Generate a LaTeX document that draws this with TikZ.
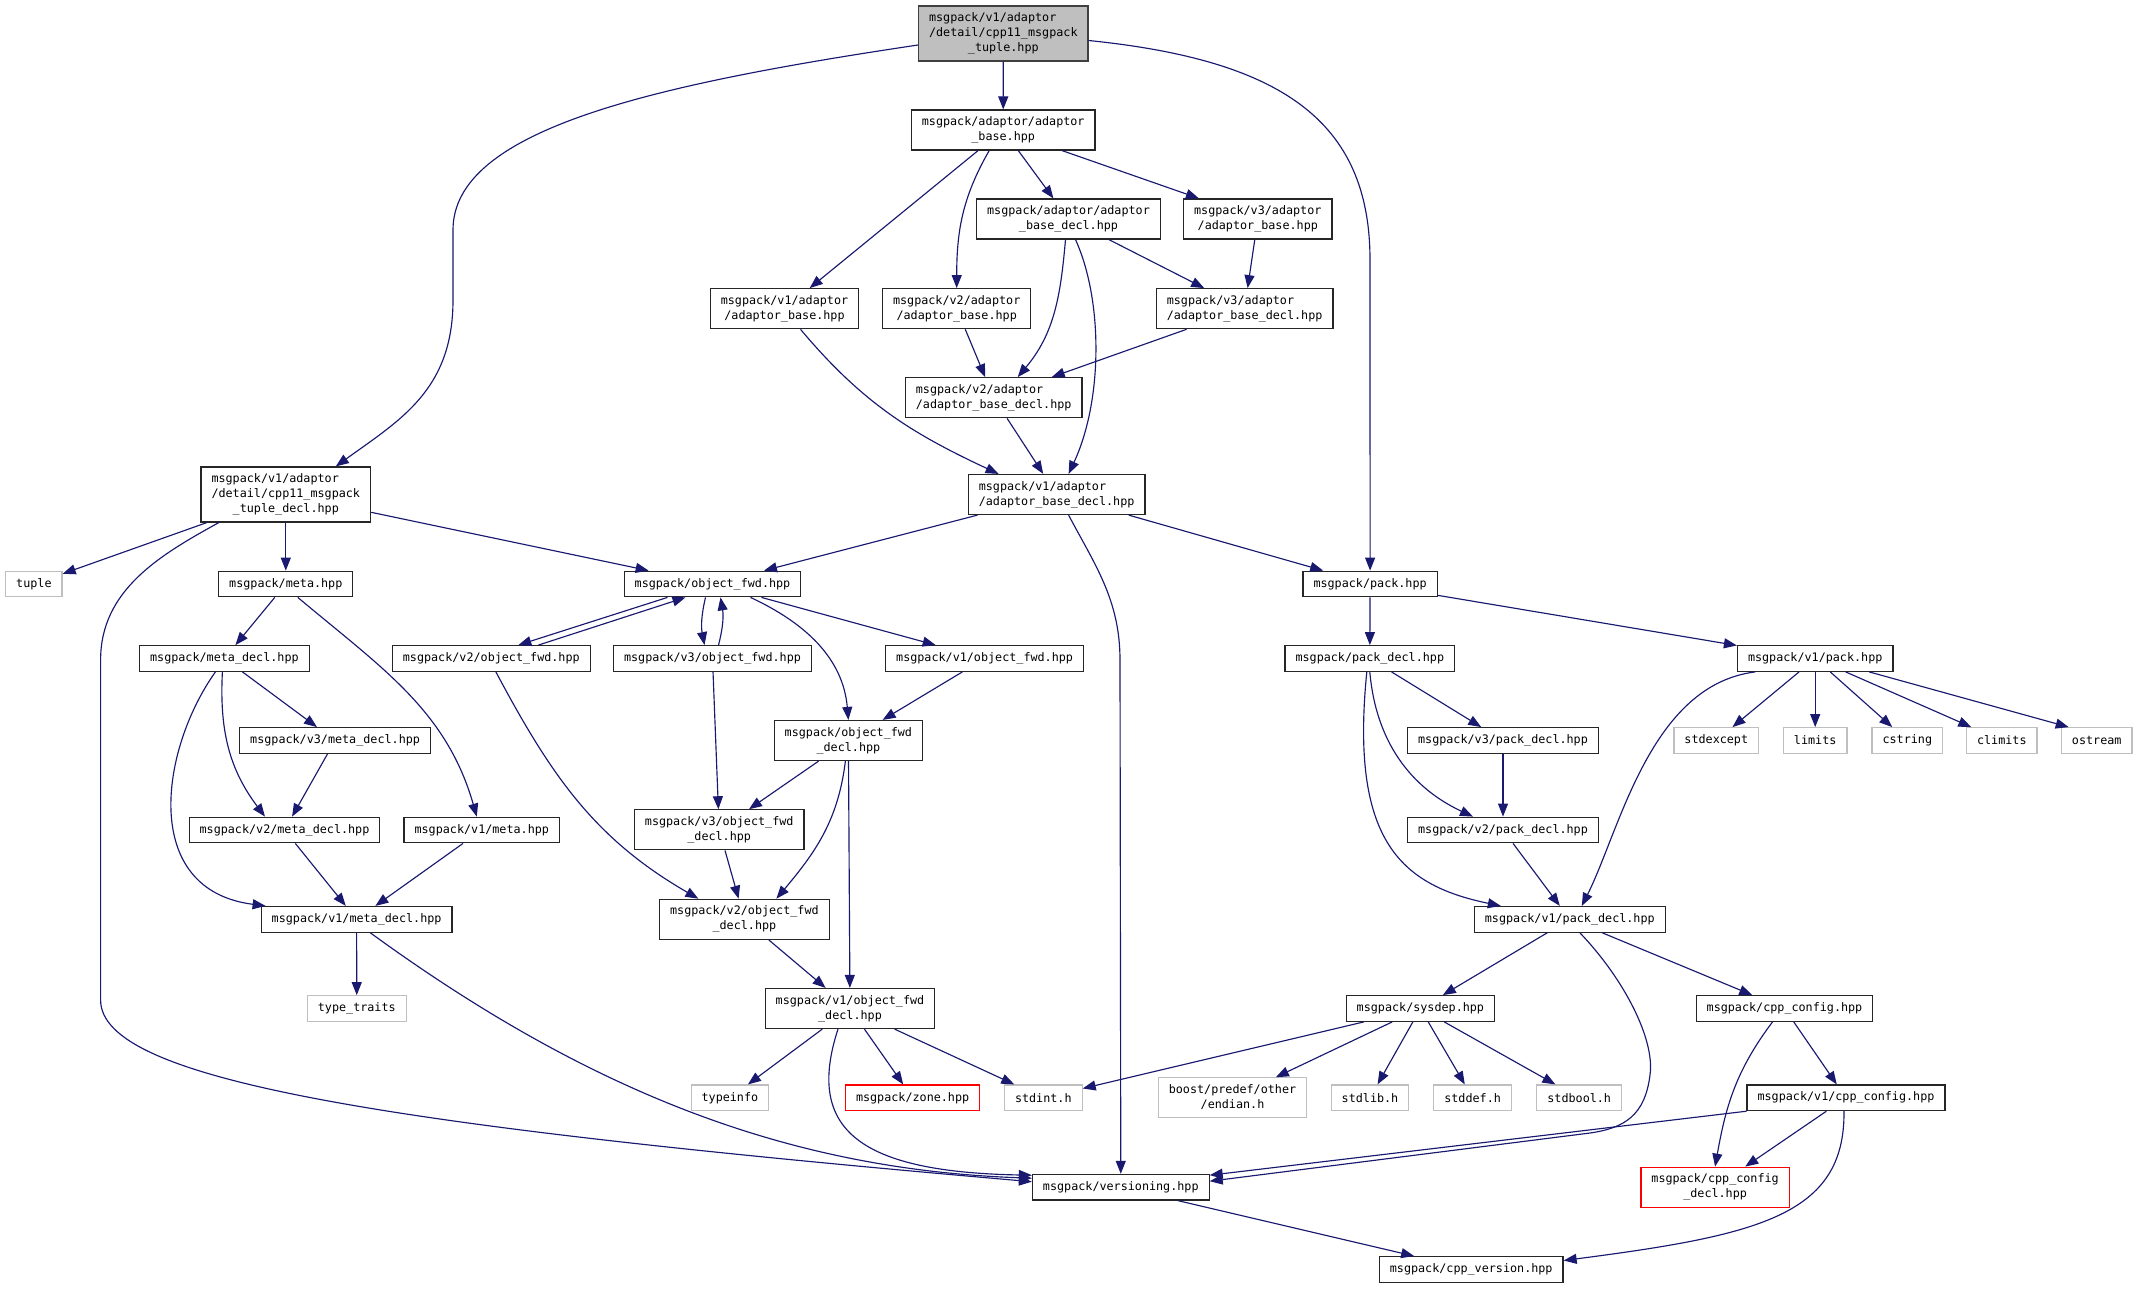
\documentclass[tikz,border=0pt]{standalone}
\usepackage{fontspec}
\newfontfamily\dxmono{DejaVu Sans Mono}
\usetikzlibrary{arrows.meta}
\definecolor{edgeblue}{HTML}{191970}
\definecolor{grey75}{HTML}{BFBFBF}
\newcommand{\lbl}[2]{\begin{tabular}{@{}l@{}}#1\\\multicolumn{1}{@{}c@{}}{#2}\end{tabular}}

\begin{document}
\begin{tikzpicture}[x=1bp,y=1bp,
		hdr/.style={draw=black!85,line width=1.2bp,inner xsep=10.5bp,inner ysep=5bp,minimum height=25.6bp,font=\dxmono\fontsize{11.75bp}{15bp}\selectfont},
		syshdr/.style={hdr,draw=grey75},
		redhdr/.style={hdr,draw=red},
		roothdr/.style={hdr,draw=black!75,fill=grey75},
		inc/.style={draw=edgeblue,line width=1.15bp,-{Triangle[length=13bp,width=10bp]}}]
			\useasboundingbox (0,0) rectangle (2137,-1288);

			\node(root) [roothdr] at (1003.3,-33.5) {\lbl{msgpack/v1/adaptor\\/detail/cpp11\_msgpack}{\_tuple.hpp}};
			\node(abase) [hdr] at (1003.2,-130) {\lbl{msgpack/adaptor/adaptor}{\_base.hpp}};
			\node(abasedecl) [hdr] at (1068.5,-219) {\lbl{msgpack/adaptor/adaptor}{\_base\_decl.hpp}};
			\node(v3abase) [hdr] at (1257.8,-219) {\lbl{msgpack/v3/adaptor}{/adaptor\_base.hpp}};
			\node(v1abase) [hdr] at (784.5,-308.7) {\lbl{msgpack/v1/adaptor}{/adaptor\_base.hpp}};
			\node(v2abase) [hdr] at (956.7,-308.7) {\lbl{msgpack/v2/adaptor}{/adaptor\_base.hpp}};
			\node(v3abasedecl) [hdr] at (1244.6,-308.7) {\lbl{msgpack/v3/adaptor}{/adaptor\_base\_decl.hpp}};
			\node(v2abasedecl) [hdr] at (993.7,-397.7) {\lbl{msgpack/v2/adaptor}{/adaptor\_base\_decl.hpp}};
			\node(tupledecl) [hdr] at (285.8,-494.5) {\lbl{msgpack/v1/adaptor\\/detail/cpp11\_msgpack}{\_tuple\_decl.hpp}};
			\node(v1abasedecl) [hdr] at (1056.6,-494.5) {\lbl{msgpack/v1/adaptor}{/adaptor\_base\_decl.hpp}};

			\node(tuple) [syshdr] at (33.9,-584) {tuple};
			\node(meta) [hdr] at (285.8,-584) {msgpack/meta.hpp};
			\node(objfwd) [hdr] at (712.5,-584) {msgpack/object\_fwd.hpp};
			\node(pack) [hdr] at (1370.1,-584) {msgpack/pack.hpp};

			\node(metadecl) [hdr] at (224.4,-658.5) {msgpack/meta\_decl.hpp};
			\node(v2objfwd) [hdr] at (491.3,-658.5) {msgpack/v2/object\_fwd.hpp};
			\node(v3objfwd) [hdr] at (712.5,-658.5) {msgpack/v3/object\_fwd.hpp};
			\node(v1objfwd) [hdr] at (984.6,-658.5) {msgpack/v1/object\_fwd.hpp};
			\node(packdecl) [hdr] at (1369.8,-658.5) {msgpack/pack\_decl.hpp};
			\node(v1pack) [hdr] at (1815.2,-658.5) {msgpack/v1/pack.hpp};

			\node(v3metadecl) [hdr] at (335.1,-740.5) {msgpack/v3/meta\_decl.hpp};
			\node(objfwddecl) [hdr] at (848.4,-740.5) {\lbl{msgpack/object\_fwd}{\_decl.hpp}};
			\node(v3packdecl) [hdr] at (1503,-740.5) {msgpack/v3/pack\_decl.hpp};
			\node(stdexcept) [syshdr] at (1716.3,-740.5) {stdexcept};
			\node(limits) [syshdr] at (1815.2,-740.5) {limits};
			\node(cstring) [syshdr] at (1907.3,-740.5) {cstring};
			\node(climits) [syshdr] at (2001.8,-740.5) {climits};
			\node(ostream) [syshdr] at (2096.7,-740.5) {ostream};

			\node(v2metadecl) [hdr] at (284.5,-830) {msgpack/v2/meta\_decl.hpp};
			\node(v1meta) [hdr] at (481.8,-830) {msgpack/v1/meta.hpp};
			\node(v3objfwddecl) [hdr] at (719.2,-829.8) {\lbl{msgpack/v3/object\_fwd}{\_decl.hpp}};
			\node(v2packdecl) [hdr] at (1503,-830) {msgpack/v2/pack\_decl.hpp};

			\node(v1metadecl) [hdr] at (356.6,-919.3) {msgpack/v1/meta\_decl.hpp};
			\node(v2objfwddecl) [hdr] at (744.4,-919.3) {\lbl{msgpack/v2/object\_fwd}{\_decl.hpp}};
			\node(v1packdecl) [hdr] at (1569.8,-919.3) {msgpack/v1/pack\_decl.hpp};

			\node(typetraits) [syshdr] at (356.8,-1008.5) {type\_traits};
			\node(v1objfwddecl) [hdr] at (850,-1008.5) {\lbl{msgpack/v1/object\_fwd}{\_decl.hpp}};
			\node(sysdep) [hdr] at (1420.4,-1008.5) {msgpack/sysdep.hpp};
			\node(cppconfig) [hdr] at (1784.5,-1008.5) {msgpack/cpp\_config.hpp};

			\node(typeinfo) [syshdr] at (729.9,-1097.8) {typeinfo};
			\node(zone) [redhdr] at (912.6,-1097.8) {msgpack/zone.hpp};
			\node(stdint) [syshdr] at (1043.3,-1097.8) {stdint.h};
			\node(endian) [syshdr] at (1232.5,-1097.8) {\lbl{boost/predef/other}{/endian.h}};
			\node(stdlib) [syshdr] at (1370,-1097.8) {stdlib.h};
			\node(stddef) [syshdr] at (1472.6,-1097.8) {stddef.h};
			\node(stdbool) [syshdr] at (1579.2,-1097.8) {stdbool.h};
			\node(v1cppconfig) [hdr] at (1846,-1097.8) {msgpack/v1/cpp\_config.hpp};

			\node(versioning) [hdr] at (1120.8,-1187.2) {msgpack/versioning.hpp};
			\node(cppconfigdecl) [redhdr] at (1715.1,-1187.2) {\lbl{msgpack/cpp\_config}{\_decl.hpp}};
			\node(cppversion) [hdr] at (1471.2,-1269.5) {msgpack/cpp\_version.hpp};

			\draw[inc](root) -- (abase);
			\draw[inc]([yshift=-11.5bp]root.west) .. controls (650,-85) and (453,-130) .. (453,-230) -- (453,-300) .. controls (453,-390) and (400,-420) .. ([xshift=50bp]tupledecl.north);
			\draw[inc]([yshift=-7bp]root.east) .. controls (1280,-60) and (1370,-120) .. (1370,-260) -- (pack);

			\draw[inc](abase) -- (v1abase);
			\draw[inc]([xshift=-14bp]abase.south) to[out=-120,in=90] (v2abase.north);
			\draw[inc](abase) -- (abasedecl);
			\draw[inc](abase) -- (v3abase);
			\draw[inc]([xshift=-3bp]abasedecl.south) to[out=-95,in=50] ([xshift=24bp]v2abasedecl.north);
			\draw[inc]([xshift=7bp]abasedecl.south) .. controls (1103,-300) and (1103,-400) .. ([xshift=12bp]v1abasedecl.north);
			\draw[inc](abasedecl) -- (v3abasedecl);
			\draw[inc](v3abase) -- (v3abasedecl);
			\draw[inc](v2abase) -- (v2abasedecl);
			\draw[inc](v3abasedecl) -- (v2abasedecl);
			\draw[inc]([xshift=16bp]v1abase.south) to[out=-50,in=155] ([xshift=-58bp]v1abasedecl.north);
			\draw[inc](v2abasedecl) -- (v1abasedecl);
			\draw[inc](v1abasedecl) -- (objfwd);
			\draw[inc](v1abasedecl) -- (pack);
			\draw[inc]([xshift=12bp]v1abasedecl.south) .. controls (1095,-565) and (1120,-600) .. (1120,-660) -- (versioning);

			\draw[inc](tupledecl) -- (tuple);
			\draw[inc](tupledecl) -- (meta);
			\draw[inc](tupledecl) -- (objfwd);
			\draw[inc]([xshift=-67bp]tupledecl.south) .. controls (160,-555) and (100.6,-590) .. (100.6,-660) -- (100.6,-1000) .. controls (100.6,-1080) and (380,-1125) .. ([yshift=5.5bp]versioning.west);

			\draw[inc](meta) -- (metadecl);
			\draw[inc]([xshift=12bp]meta.south) to[out=-40,in=106] ([xshift=-5bp]v1meta.north);
			\draw[inc](metadecl) -- (v3metadecl);
			\draw[inc]([xshift=-2bp]metadecl.south) to[out=-93,in=127] ([xshift=-19.5bp]v2metadecl.north);
			\draw[inc]([xshift=-9bp]metadecl.south) .. controls (160,-750) and (140,-890) .. ([xshift=-91bp]v1metadecl.north);
			\draw[inc](v3metadecl) -- (v2metadecl);
			\draw[inc](v2metadecl) -- (v1metadecl);
			\draw[inc](v1meta) -- (v1metadecl);
			\draw[inc](v1metadecl) -- (typetraits);
			\draw[inc]([xshift=13.6bp]v1metadecl.south) .. controls (600,-1100) and (800,-1170) .. ([yshift=9bp]versioning.west);

			\draw[inc]([xshift=-45bp]objfwd.south) -- ([xshift=27bp]v2objfwd.north);
			\draw[inc]([xshift=47bp]v2objfwd.north) -- ([xshift=-27bp]objfwd.south);
			\draw[inc]([xshift=-7bp]objfwd.south) to[bend right=12] ([xshift=-8bp]v3objfwd.north);
			\draw[inc]([xshift=6bp]v3objfwd.north) to[bend right=12] ([xshift=8bp]objfwd.south);
			\draw[inc](objfwd) -- (v1objfwd);
			\draw[inc]([xshift=38bp]objfwd.south) to[out=-25,in=95] (objfwddecl.north);
			\draw[inc](v1objfwd) -- (objfwddecl);
			\draw[inc]([xshift=4.6bp]v2objfwd.south) to[out=-62,in=150] ([xshift=-46bp]v2objfwddecl.north);
			\draw[inc](v3objfwd) -- (v3objfwddecl);
			\draw[inc](objfwddecl) -- (v3objfwddecl);
			\draw[inc]([xshift=-3bp]objfwddecl.south) to[out=-97,in=50] ([xshift=32bp]v2objfwddecl.north);
			\draw[inc](objfwddecl) -- (v1objfwddecl);
			\draw[inc](v3objfwddecl) -- (v2objfwddecl);
			\draw[inc](v2objfwddecl) -- (v1objfwddecl);
			\draw[inc](v1objfwddecl) -- (typeinfo);
			\draw[inc](v1objfwddecl) -- (zone);
			\draw[inc](v1objfwddecl) -- (stdint);
			\draw[inc]([xshift=-12bp]v1objfwddecl.south) .. controls (805,-1130) and (860,-1172) .. ([yshift=12bp]versioning.west);

			\draw[inc](pack) -- (packdecl);
			\draw[inc](pack) -- (v1pack);
			\draw[inc](packdecl) -- (v3packdecl);
			\draw[inc](packdecl.south) to[out=-85,in=155] ([xshift=-30bp]v2packdecl.north);
			\draw[inc]([xshift=-3bp]packdecl.south) .. controls (1350,-840) and (1400,-885) .. ([xshift=-69bp]v1packdecl.north);
			\draw[inc](v3packdecl) -- (v2packdecl);
			\draw[inc](v2packdecl) -- (v1packdecl);
			\draw[inc]([xshift=-60bp]v1pack.south) .. controls (1650,-685) and (1620,-830) .. ([xshift=12bp]v1packdecl.north);
			\draw[inc](v1pack) -- (stdexcept);
			\draw[inc](v1pack) -- (limits);
			\draw[inc](v1pack) -- (cstring);
			\draw[inc](v1pack) -- (climits);
			\draw[inc]([xshift=54bp]v1pack.south) -- ([xshift=-28bp]ostream.north);

			\draw[inc](v1packdecl) -- (sysdep);
			\draw[inc](v1packdecl) -- (cppconfig);
			\draw[inc]([xshift=10bp]v1packdecl.south) .. controls (1625,-980) and (1655,-1040) .. (1650,-1075) .. controls (1645,-1115) and (1625,-1128) .. (1590,-1133) -- ([yshift=6bp]versioning.east);
			\draw[inc](sysdep) -- (stdint);
			\draw[inc](sysdep) -- (endian);
			\draw[inc](sysdep) -- (stdlib);
			\draw[inc](sysdep) -- (stddef);
			\draw[inc](sysdep) -- (stdbool);
			\draw[inc]([xshift=-12bp]cppconfig.south) to[out=-127,in=80] (cppconfigdecl.north);
			\draw[inc](cppconfig) -- (v1cppconfig);
			\draw[inc](v1cppconfig) -- (cppconfigdecl);
			\draw[inc](v1cppconfig.south west) -- ([yshift=12bp]versioning.east);
			\draw[inc]([xshift=-2bp]v1cppconfig.south) .. controls (1845,-1215) and (1760,-1235) .. ([yshift=9bp]cppversion.east);
			\draw[inc](versioning) -- (cppversion);
		\end{tikzpicture}
\end{document}
